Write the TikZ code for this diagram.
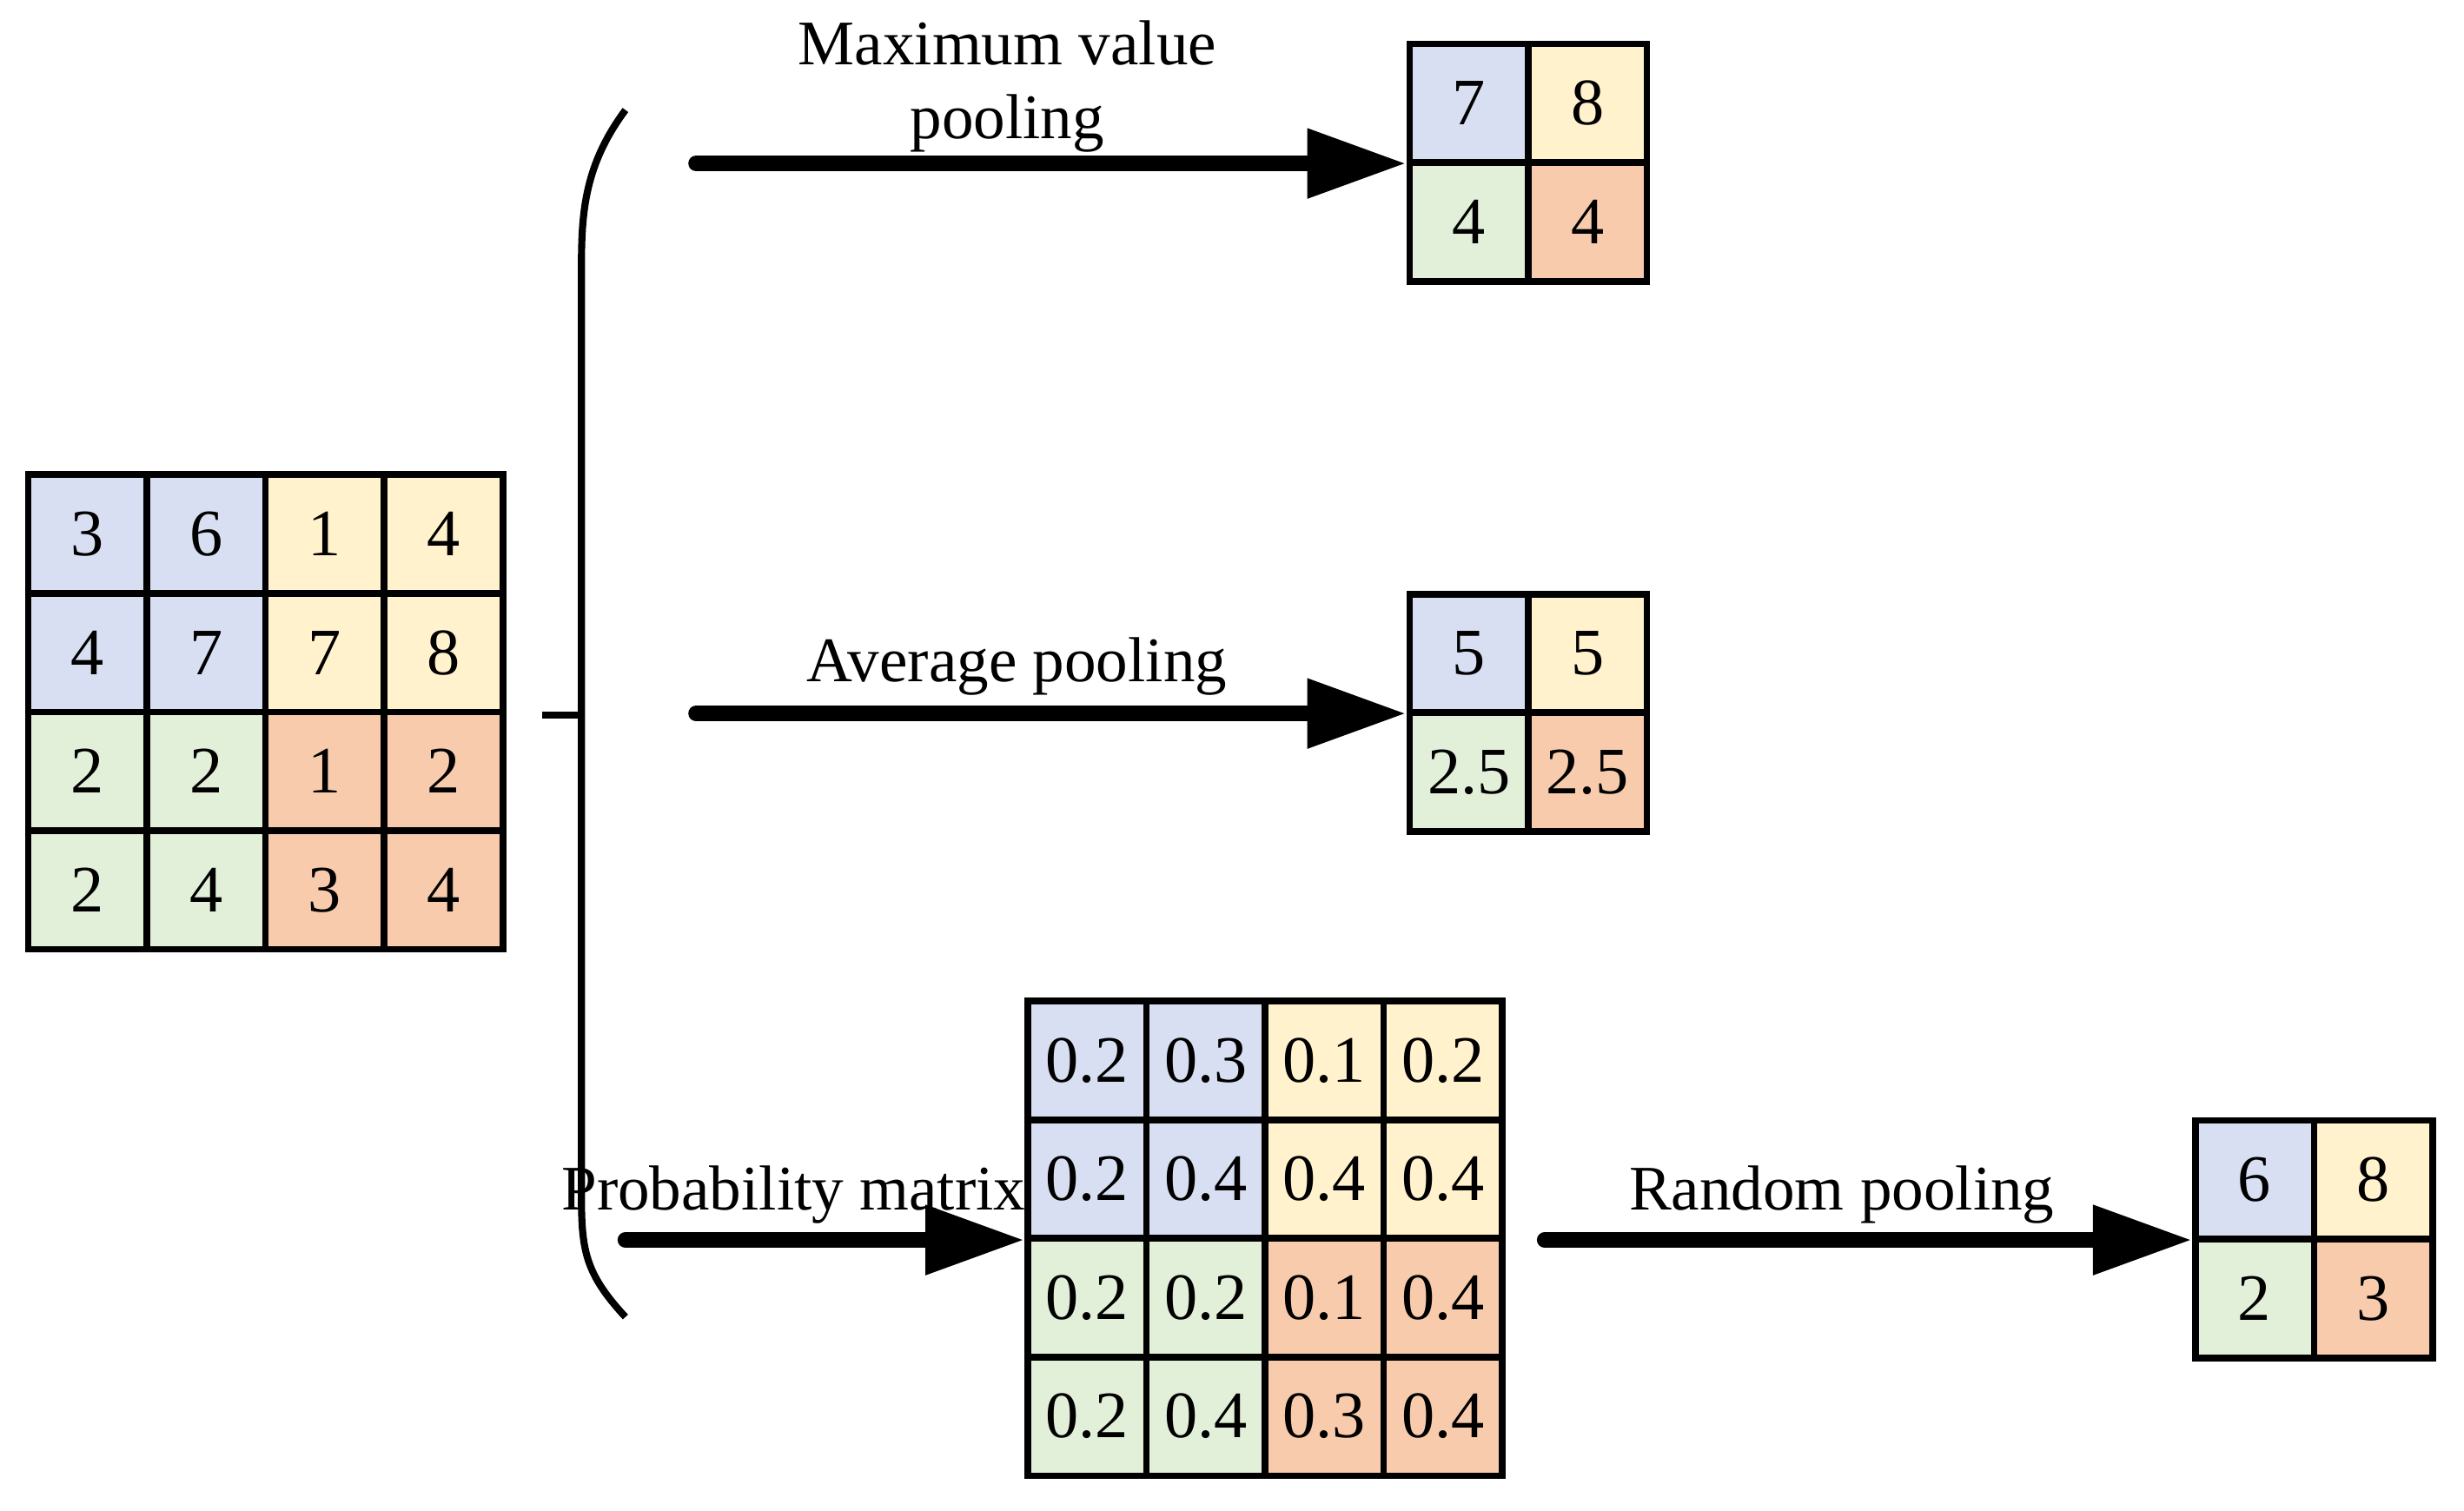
\documentclass[tikz,border=0pt]{standalone}
\usepackage{fontspec}
\setmainfont{Liberation Serif}
\usetikzlibrary{arrows.meta}
\definecolor{cb}{HTML}{D9DFF2}
\definecolor{cy}{HTML}{FFF2CC}
\definecolor{cg}{HTML}{E2EFD9}
\definecolor{co}{HTML}{F8CBAD}
\tikzset{
  cell/.style={draw=black, line width=1.2pt, minimum size=0.755cm, inner sep=0pt, font=\fontsize{12}{14}\selectfont},
  flow/.style={line width=0.1cm, line cap=round, -{Triangle[length=0.63cm,width=0.42cm]}},
  lbl/.style={font=\fontsize{11.5}{13.5}\selectfont, align=center}
}
% grid: name, x, y (top-left, cm), size n, list of values
\newcommand{\pgrid}[5]{%
  \foreach \v [count=\i from 0] in {#5} {
    \pgfmathtruncatemacro{\r}{int(\i/#4)}
    \pgfmathtruncatemacro{\c}{mod(\i,#4)}
    \pgfmathtruncatemacro{\q}{(\r>=#4/2)*2+(\c>=#4/2)}
    \ifcase\q\def\cc{cb}\or\def\cc{cy}\or\def\cc{cg}\else\def\cc{co}\fi
    \node[cell, fill=\cc] (#1-\r-\c) at ({#2+0.3775+0.755*\c},{#3-0.3775-0.755*\r}) {\v};
  }%
}
\begin{document}
\begin{tikzpicture}
\useasboundingbox (0,0) rectangle (15.68,-9.61);
\pgrid{in}{0.18}{-3.02}{4}{3,6,1,4,4,7,7,8,2,2,1,2,2,4,3,4}
\pgrid{mx}{8.97}{-0.28}{2}{7,8,4,4}
\pgrid{av}{8.97}{-3.78}{2}{5,5,2.5,2.5}
\pgrid{pr}{6.54}{-6.37}{4}{0.2,0.3,0.1,0.2,0.2,0.4,0.4,0.4,0.2,0.2,0.1,0.4,0.2,0.4,0.3,0.4}
\pgrid{rp}{13.97}{-7.13}{2}{6,8,2,3}
% bracket
\draw[line width=0.045cm] (3.98,-0.70) .. controls (3.72,-1.05) and (3.70,-1.35) .. (3.70,-1.70)
  -- (3.70,-7.60) .. controls (3.70,-7.95) and (3.72,-8.10) .. (3.98,-8.38);
\coordinate (tick) at (3.45,-4.55);
\draw[line width=0.045cm] (tick) -- (3.70,-4.55);
\coordinate (s1) at (4.43,-1.04);
\coordinate (s2) at (4.43,-4.54);
\coordinate (s3) at (3.98,-7.89);
\coordinate (s4) at (9.83,-7.89);
\draw[flow] (s1) -- (mx-0-0.west |- s1);
\draw[flow] (s2) -- (av-0-0.west |- s2);
\draw[flow] (s3) -- (pr-0-0.west |- s3);
\draw[flow] (s4) -- (rp-0-0.west |- s4);
\node[lbl] (t1) at (6.41,-0.55) {Maximum value\\pooling};
\node[lbl] (t2) at (6.47,-4.24) {Average pooling};
\node[lbl] (t3) at (5.05,-7.60) {Probability matrix};
\node[lbl] (t4) at (11.72,-7.60) {Random pooling};
\end{tikzpicture}
\end{document}
